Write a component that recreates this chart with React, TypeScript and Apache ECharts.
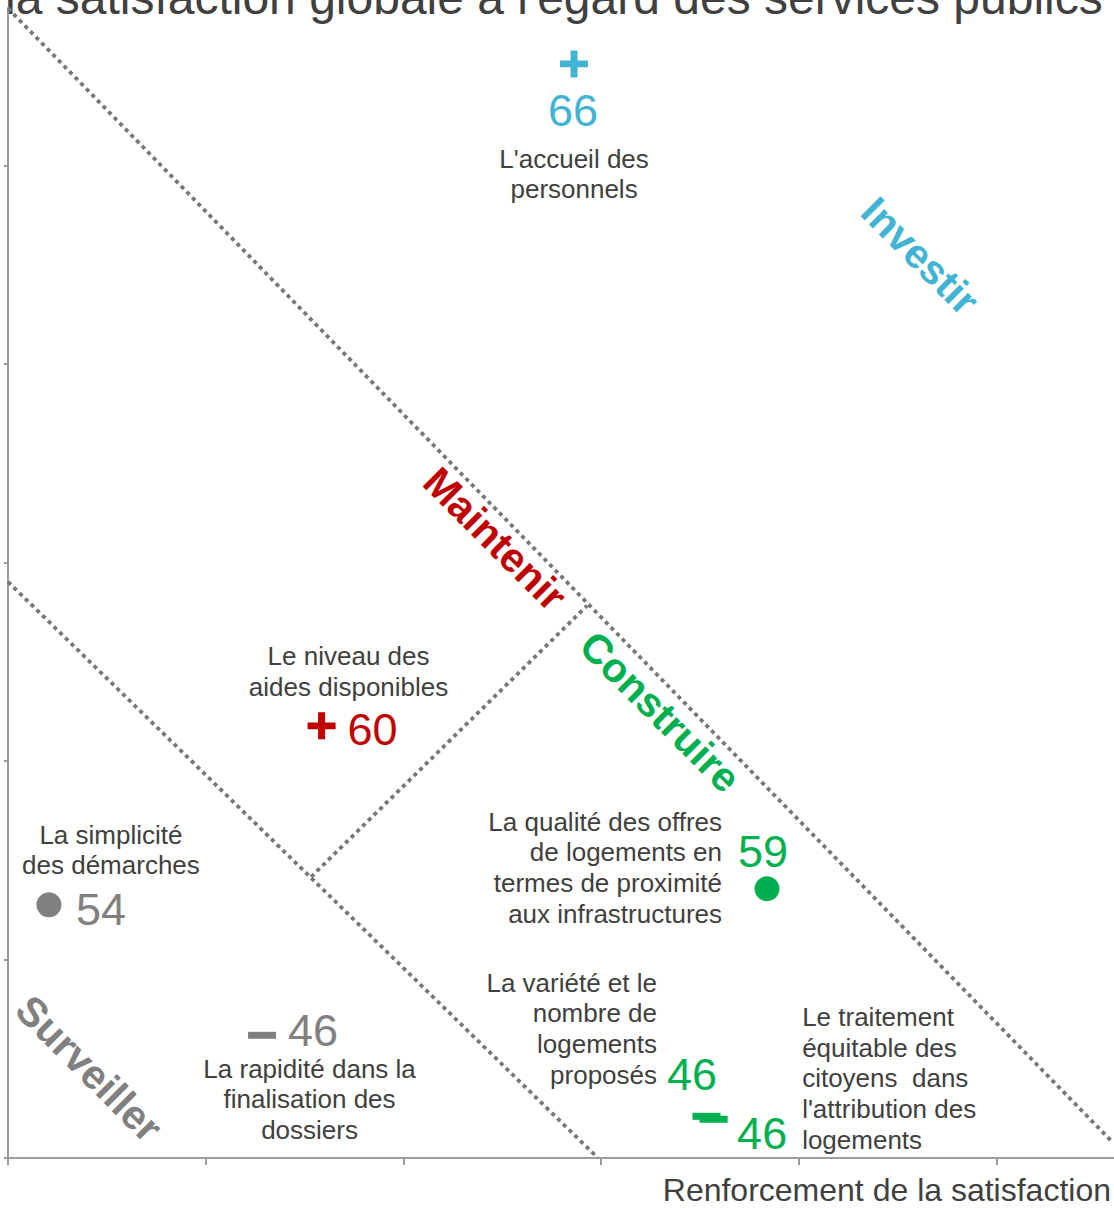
import { useEffect, useRef } from "react";
import * as echarts from "echarts";

const FONT = "'Liberation Sans', Arial, Helvetica, sans-serif";

// Items: horizontal = renforcement de la satisfaction, vertical = impact sur la satisfaction globale
const itemNames = [
  "L'accueil des\npersonnels",
  "Le niveau des\naides disponibles",
  "La qualité des offres\nde logements en\ntermes de proximité\naux infrastructures",
  "La simplicité\ndes démarches",
  "La rapidité dans la\nfinalisation des\ndossiers",
  "La variété et le\nnombre de\nlogements\nproposés",
  "Le traitement\néquitable des\ncitoyens  dans\nl'attribution des\nlogements",
];
const renforcement = [2.863, 1.586, 3.839, 0.207, 1.285, 3.533, 3.569];
const impact = [5.51, 2.177, 1.356, 1.275, 0.618, 0.21, 0.195];
const scores = [66, 60, 59, 54, 46, 46, 46];
const trends = ["+", "+", "=", "=", "-", "-", "-"];
const itemQuadrant = [0, 1, 2, 3, 3, 2, 2];

// Quadrants
const quadrantNames = ["Investir", "Maintenir", "Construire", "Surveiller"];
const quadrantX = [4.613, 2.463, 3.298, 0.41];
const quadrantY = [4.543, 3.118, 2.247, 0.45];
const quadrantColors = ["#41B3D3", "#C00000", "#00B050", "#808080"];

// Frontier lines between the zones
const frontierUpper = [
  [0, 5.79],
  [5.589, 0.077],
];
const frontierLower = [
  [0, 2.902],
  [2.984, 0],
];
const frontierSplit = [
  [1.533, 1.416],
  [2.929, 2.782],
];

const X_MAX = 5.594;
const Y_MAX = 5.792;
const tickValues = [0, 1, 2, 3, 4, 5];

// Label placement around each marker: [dx, dy, align]
const valueLabelLayout: [number, number, string][] = [
  [-1, 47, "center"],
  [26, 4, "left"],
  [-4, -37, "center"],
  [27, 5, "left"],
  [26, -5, "left"],
  [-14.5, -41.5, "center"],
  [48.5, 14, "center"],
];
const nameLabelLayout: [number, number, string][] = [
  [0, 110, "center"],
  [27, -54.5, "center"],
  [-45, -21, "right"],
  [62, -55, "center"],
  [47.5, 64, "center"],
  [-49.5, -87.5, "right"],
  [88.5, -41, "left"],
];

const PLUS = "path://M0,10.5H10.5V0H17.5V10.5H28V17.5H17.5V28H10.5V17.5H0Z";

function markerFor(trend: string) {
  if (trend === "+") return { symbol: PLUS, symbolSize: [28, 27] };
  if (trend === "-") return { symbol: "rect", symbolSize: [28, 7] };
  return { symbol: "circle", symbolSize: 25 };
}

const frontierStyle = {
  color: "#777777",
  width: 3.8,
  type: [4, 4] as number[],
  cap: "butt" as const,
};

function frontier(data: number[][]) {
  return {
    type: "line",
    data,
    symbol: "none",
    silent: true,
    lineStyle: frontierStyle,
    z: 1,
  };
}

export default function App() {
  const ref = useRef<HTMLDivElement>(null);

  useEffect(() => {
    document.body.style.margin = "0";
    if (!ref.current) return;
    const chart = echarts.init(ref.current, undefined, { renderer: "svg" });

    const markerData = scores.map((s, i) => {
      const color = quadrantColors[itemQuadrant[i]];
      const [dx, dy, align] = valueLabelLayout[i];
      return {
        value: [renforcement[i], impact[i], s],
        ...markerFor(trends[i]),
        itemStyle: { color, opacity: 1 },
        label: {
          show: true,
          position: "inside",
          offset: [dx, dy],
          align,
          verticalAlign: "middle",
          formatter: String(s),
          color,
          fontSize: 45,
          lineHeight: 34,
          fontFamily: FONT,
        },
      };
    });

    const nameData = itemNames.map((n, i) => {
      const [dx, dy, align] = nameLabelLayout[i];
      return {
        value: [renforcement[i], impact[i]],
        label: {
          show: true,
          position: "inside",
          offset: [dx, dy],
          align,
          verticalAlign: "middle",
          formatter: n,
        },
      };
    });

    const quadrantData = quadrantNames.map((q, i) => ({
      value: [quadrantX[i], quadrantY[i]],
      label: {
        show: true,
        position: "inside",
        rotate: -45,
        align: "center",
        verticalAlign: "middle",
        formatter: q,
        color: quadrantColors[i],
      },
    }));

    const axisLineStyle = { color: "#9C9C9C", width: 2 };

    chart.setOption({
      animation: false,
      grid: { left: 8, right: 0, top: 8, bottom: 50, containLabel: false },
      xAxis: {
        type: "value",
        min: 0,
        max: X_MAX,
        interval: 1,
        axisLine: { show: true, lineStyle: axisLineStyle },
        axisTick: { show: true, length: 7, lineStyle: axisLineStyle, customValues: tickValues },
        axisLabel: { show: false },
        splitLine: { show: false },
      },
      yAxis: {
        type: "value",
        min: 0,
        max: Y_MAX,
        interval: 1,
        axisLine: { show: true, lineStyle: axisLineStyle },
        axisTick: { show: true, length: 4, lineStyle: axisLineStyle, customValues: tickValues },
        axisLabel: { show: false },
        splitLine: { show: false },
      },
      graphic: [
        {
          type: "text",
          left: 5,
          top: -27,
          silent: true,
          style: {
            text: "la satisfaction globale à l'égard des services publics",
            fill: "#404040",
            font: `48px ${FONT}`,
          },
        },
        {
          type: "text",
          right: 3,
          top: 1174,
          silent: true,
          style: {
            text: "Renforcement de la satisfaction",
            fill: "#404040",
            font: `32px ${FONT}`,
          },
        },
      ],
      series: [
        frontier(frontierUpper),
        frontier(frontierLower),
        frontier(frontierSplit),
        {
          type: "scatter",
          data: quadrantData,
          symbolSize: 0,
          silent: true,
          itemStyle: { color: "rgba(0,0,0,0)", opacity: 1 },
          label: { fontSize: 41, fontWeight: "bold", fontFamily: FONT },
          z: 2,
        },
        {
          type: "scatter",
          data: nameData,
          symbolSize: 0,
          silent: true,
          itemStyle: { color: "rgba(0,0,0,0)", opacity: 1 },
          label: {
            fontSize: 26,
            lineHeight: 30.7,
            color: "#404040",
            fontFamily: FONT,
          },
          z: 3,
        },
        {
          type: "scatter",
          data: markerData,
          silent: true,
          itemStyle: { opacity: 1 },
          z: 4,
        },
      ],
    });

    return () => chart.dispose();
  }, []);

  return <div ref={ref} style={{ width: 1114, height: 1208 }} />;
}
